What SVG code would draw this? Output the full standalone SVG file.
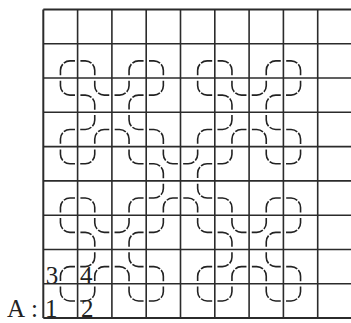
<svg xmlns="http://www.w3.org/2000/svg" xmlns:xlink="http://www.w3.org/1999/xlink" width="351" height="323" viewBox="0 0 351 323">
<style>
.grid line{stroke:#2b2b2b;stroke-width:1.6}
.grid .edge{stroke-width:2}
.arc{fill:none;stroke:#222;stroke-width:1.6;stroke-dasharray:0 2.8 11.6 1.5 11.6 2.72}
.lbl{font-family:"Liberation Serif","Times New Roman",serif;font-size:25px;fill:#222}
</style>
<defs>
<path id="br" class="arc" d="M17.15 34.3V26.65A9.5 9.5 0 0 1 26.65 17.15H34.3"/>
<path id="bl" class="arc" d="M0 17.15H7.65A9.5 9.5 0 0 1 17.15 26.65V34.3"/>
<path id="tr" class="arc" d="M17.15 0V7.65A9.5 9.5 0 0 0 26.65 17.15H34.3"/>
<path id="tl" class="arc" d="M17.15 0V7.65A9.5 9.5 0 0 1 7.65 17.15H0"/>
</defs>
<rect width="351" height="323" fill="#fff"/>
<g id="grid" class="grid">
<line class="edge" x1="43.3" y1="9.4" x2="43.3" y2="318.1"/>
<line x1="77.6" y1="9.4" x2="77.6" y2="318.1"/>
<line x1="111.9" y1="9.4" x2="111.9" y2="318.1"/>
<line x1="146.2" y1="9.4" x2="146.2" y2="318.1"/>
<line x1="180.5" y1="9.4" x2="180.5" y2="318.1"/>
<line x1="214.8" y1="9.4" x2="214.8" y2="318.1"/>
<line x1="249.1" y1="9.4" x2="249.1" y2="318.1"/>
<line x1="283.4" y1="9.4" x2="283.4" y2="318.1"/>
<line x1="317.7" y1="9.4" x2="317.7" y2="318.1"/>
<line class="edge" x1="43.3" y1="9.4" x2="351" y2="9.4"/>
<line x1="43.3" y1="43.7" x2="351" y2="43.7"/>
<line x1="43.3" y1="78" x2="351" y2="78"/>
<line x1="43.3" y1="112.3" x2="351" y2="112.3"/>
<line x1="43.3" y1="146.6" x2="351" y2="146.6"/>
<line x1="43.3" y1="180.9" x2="351" y2="180.9"/>
<line x1="43.3" y1="215.2" x2="351" y2="215.2"/>
<line x1="43.3" y1="249.5" x2="351" y2="249.5"/>
<line x1="43.3" y1="283.8" x2="351" y2="283.8"/>
<line class="edge" x1="43.3" y1="318.1" x2="351" y2="318.1"/>
</g>
<g id="curve">
<use href="#br" x="43.3" y="43.7"/><use href="#bl" x="77.6" y="43.7"/><use href="#br" x="111.9" y="43.7"/><use href="#bl" x="146.2" y="43.7"/>
<use href="#br" x="180.5" y="43.7"/><use href="#bl" x="214.8" y="43.7"/><use href="#br" x="249.1" y="43.7"/><use href="#bl" x="283.4" y="43.7"/>
<use href="#tr" x="43.3" y="78"/><use href="#tr" x="77.6" y="78"/><use href="#bl" x="77.6" y="78"/><use href="#tl" x="111.9" y="78"/><use href="#br" x="111.9" y="78"/><use href="#tl" x="146.2" y="78"/>
<use href="#tr" x="180.5" y="78"/><use href="#tr" x="214.8" y="78"/><use href="#bl" x="214.8" y="78"/><use href="#tl" x="249.1" y="78"/><use href="#br" x="249.1" y="78"/><use href="#tl" x="283.4" y="78"/>
<use href="#br" x="43.3" y="112.3"/><use href="#tl" x="77.6" y="112.3"/><use href="#br" x="77.6" y="112.3"/><use href="#tr" x="111.9" y="112.3"/><use href="#bl" x="111.9" y="112.3"/><use href="#bl" x="146.2" y="112.3"/>
<use href="#br" x="180.5" y="112.3"/><use href="#tl" x="214.8" y="112.3"/><use href="#br" x="214.8" y="112.3"/><use href="#tr" x="249.1" y="112.3"/><use href="#bl" x="249.1" y="112.3"/><use href="#bl" x="283.4" y="112.3"/>
<use href="#tr" x="43.3" y="146.6"/><use href="#tl" x="77.6" y="146.6"/><use href="#tr" x="111.9" y="146.6"/><use href="#tr" x="146.2" y="146.6"/><use href="#bl" x="146.2" y="146.6"/>
<use href="#tl" x="180.5" y="146.6"/><use href="#br" x="180.5" y="146.6"/><use href="#tl" x="214.8" y="146.6"/><use href="#tr" x="249.1" y="146.6"/><use href="#tl" x="283.4" y="146.6"/>
<use href="#br" x="43.3" y="180.9"/><use href="#bl" x="77.6" y="180.9"/><use href="#br" x="111.9" y="180.9"/><use href="#tl" x="146.2" y="180.9"/><use href="#br" x="146.2" y="180.9"/>
<use href="#tr" x="180.5" y="180.9"/><use href="#bl" x="180.5" y="180.9"/><use href="#bl" x="214.8" y="180.9"/><use href="#br" x="249.1" y="180.9"/><use href="#bl" x="283.4" y="180.9"/>
<use href="#tr" x="43.3" y="215.2"/><use href="#tr" x="77.6" y="215.2"/><use href="#bl" x="77.6" y="215.2"/><use href="#tl" x="111.9" y="215.2"/><use href="#br" x="111.9" y="215.2"/><use href="#tl" x="146.2" y="215.2"/>
<use href="#tr" x="180.5" y="215.2"/><use href="#tr" x="214.8" y="215.2"/><use href="#bl" x="214.8" y="215.2"/><use href="#tl" x="249.1" y="215.2"/><use href="#br" x="249.1" y="215.2"/><use href="#tl" x="283.4" y="215.2"/>
<use href="#br" x="43.3" y="249.5"/><use href="#tl" x="77.6" y="249.5"/><use href="#br" x="77.6" y="249.5"/><use href="#tr" x="111.9" y="249.5"/><use href="#bl" x="111.9" y="249.5"/><use href="#bl" x="146.2" y="249.5"/>
<use href="#br" x="180.5" y="249.5"/><use href="#tl" x="214.8" y="249.5"/><use href="#br" x="214.8" y="249.5"/><use href="#tr" x="249.1" y="249.5"/><use href="#bl" x="249.1" y="249.5"/><use href="#bl" x="283.4" y="249.5"/>
<use href="#tr" x="43.3" y="283.8"/><use href="#tl" x="77.6" y="283.8"/><use href="#tr" x="111.9" y="283.8"/><use href="#tl" x="146.2" y="283.8"/>
<use href="#tr" x="180.5" y="283.8"/><use href="#tl" x="214.8" y="283.8"/><use href="#tr" x="249.1" y="283.8"/><use href="#tl" x="283.4" y="283.8"/>
</g>
<g id="labels" class="lbl">
<text x="7" y="317">A<tspan dx="6">:</tspan></text>
<text x="45" y="317">1</text>
<text x="81" y="317">2</text>
<text x="45.8" y="283.5">3</text>
<text x="80" y="283.5">4</text>
</g>
</svg>
